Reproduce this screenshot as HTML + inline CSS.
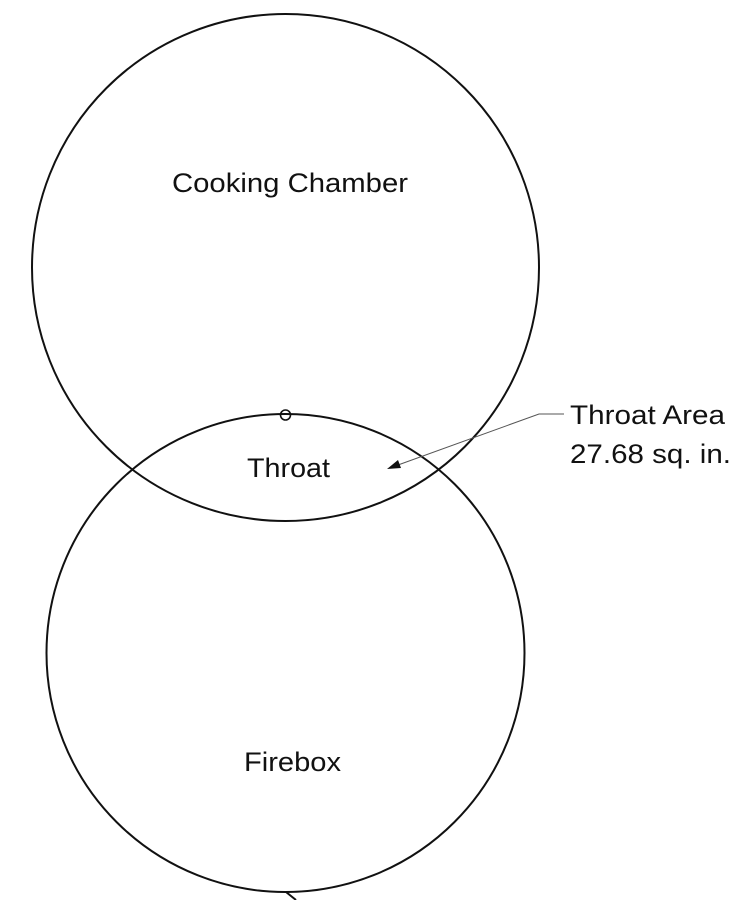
<!DOCTYPE html>
<html><head><style>html,body{margin:0;padding:0;background:#fff}</style></head>
<body>
<svg width="735" height="900" viewBox="0 0 735 900" xmlns="http://www.w3.org/2000/svg" style="display:block">
<g fill="none" stroke="#111" stroke-width="2">
<circle cx="285.5" cy="267.5" r="253.5"/>
<circle cx="285.5" cy="653" r="239"/>
<circle cx="285.5" cy="415" r="5" stroke-width="1.6"/>
<line x1="286" y1="892" x2="296" y2="900"/>
</g>
<polyline points="564,414 539,414 398,465" fill="none" stroke="#555" stroke-width="1"/>
<polygon points="387,469 398,460 401,468" fill="#111"/>
<g font-family="Liberation Sans, sans-serif" font-size="27" fill="#111">
<text x="172" y="192" textLength="236" lengthAdjust="spacingAndGlyphs">Cooking Chamber</text>
<text x="247" y="477" textLength="83" lengthAdjust="spacingAndGlyphs">Throat</text>
<text x="244" y="771" textLength="97" lengthAdjust="spacingAndGlyphs">Firebox</text>
<text x="570" y="424" textLength="155" lengthAdjust="spacingAndGlyphs">Throat Area</text>
<text x="570" y="463" textLength="161" lengthAdjust="spacingAndGlyphs">27.68 sq. in.</text>
</g>
</svg>
</body></html>
